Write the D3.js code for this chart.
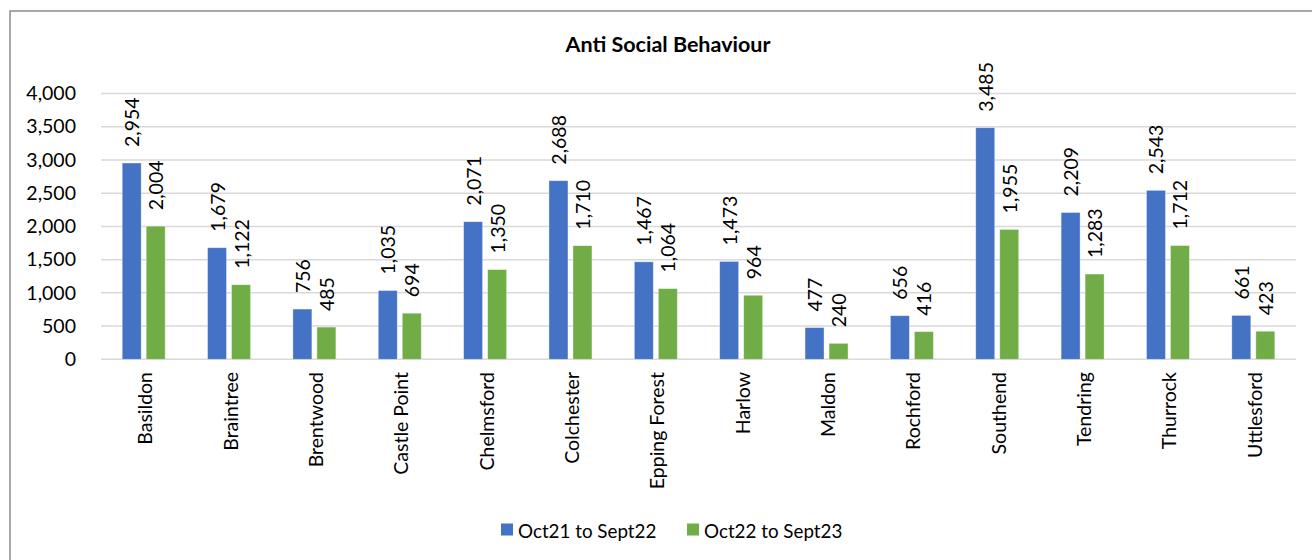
<!DOCTYPE html>
<html><head><meta charset="utf-8">
<script src="https://cdn.jsdelivr.net/npm/d3@7"></script>
<style>html,body{margin:0;padding:0;background:#fff;}svg{display:block;}</style>
</head><body>
<svg id="chart" width="1312" height="560"></svg>
<script>
const categories = ["Basildon","Braintree","Brentwood","Castle Point","Chelmsford","Colchester","Epping Forest","Harlow","Maldon","Rochford","Southend","Tendring","Thurrock","Uttlesford"];
const seriesNames = ["Oct21 to Sept22","Oct22 to Sept23"];
const oct21 = [2954,1679,756,1035,2071,2688,1467,1473,477,656,3485,2209,2543,661];
const oct22 = [2004,1122,485,694,1350,1710,1064,964,240,416,1955,1283,1712,423];
const yTicks = [0,500,1000,1500,2000,2500,3000,3500,4000];
const colors = ["#4472C4","#70AD47"];
const title = "Anti Social Behaviour";

(function(){
const svg = d3.select("#chart");
const font = "Lato, 'Open Sans', sans-serif";
const fs = 19.5;

svg.append("rect").attr("x",10).attr("y",11).attr("width",1320).attr("height",600)
  .attr("fill","#fff").attr("stroke","#8c8c8c").attr("stroke-width",1.5);

const pLeft = 101, pRight = 1296, pTop = 93.5, pBottom = 359.3;
const x = d3.scaleBand().domain(categories).range([pLeft,pRight]).paddingInner(0).paddingOuter(0);
const y = d3.scaleLinear().domain([0,4000]).range([pBottom,pTop]);

svg.append("text").attr("x",668).attr("y",46).attr("text-anchor","middle").attr("dominant-baseline","middle")
  .attr("font-family",font).attr("font-weight","bold").attr("font-size",21.5).attr("fill","#000").text(title);

svg.append("g").selectAll("line").data(yTicks).join("line")
  .attr("x1",pLeft).attr("x2",pRight).attr("y1",d=>y(d)).attr("y2",d=>y(d))
  .attr("stroke","#d9d9d9").attr("stroke-width",1.5);

const yAxis = d3.axisLeft(y).tickValues(yTicks).tickFormat(d3.format(",")).tickSize(0).tickPadding(0);
const ya = svg.append("g").attr("transform",`translate(76,0)`).call(yAxis);
ya.select(".domain").remove();
ya.selectAll("text").attr("font-family",font).attr("font-size",fs).attr("fill","#000");

const series = [oct21, oct22];
const barW = 19, gap = 5;
const fmt = d3.format(",");
series.forEach((vals, si) => {
  const g = svg.append("g");
  const off = si === 0 ? -gap/2 - barW : gap/2;
  g.selectAll("rect").data(vals).join("rect")
    .attr("x",(d,i)=>x(categories[i]) + x.bandwidth()/2 + off)
    .attr("y",d=>y(d)).attr("width",barW).attr("height",d=>pBottom - y(d))
    .attr("fill",colors[si]).attr("stroke","#ffffff").attr("stroke-opacity",0.5).attr("stroke-width",0.75);
  g.selectAll("text").data(vals).join("text")
    .attr("transform",(d,i)=>`translate(${x(categories[i]) + x.bandwidth()/2 + off + barW/2},${y(d)-16}) rotate(-90)`)
    .attr("text-anchor","start").attr("dominant-baseline","central")
    .attr("font-family",font).attr("font-size",fs).attr("fill","#000")
    .text(d=>fmt(d));
});

svg.append("g").selectAll("text").data(categories).join("text")
  .attr("transform",d=>`translate(${x(d)+x.bandwidth()/2+1},372) rotate(-90)`)
  .attr("text-anchor","end").attr("dominant-baseline","central")
  .attr("font-family",font).attr("font-size",fs).attr("fill","#000").text(d=>d);

const legX = [501, 687];
seriesNames.forEach((n,i)=>{
  svg.append("rect").attr("x",legX[i]).attr("y",523.5).attr("width",12).attr("height",12).attr("fill",colors[i]);
  svg.append("text").attr("x",legX[i]+17).attr("y",530).attr("dominant-baseline","central")
    .attr("font-family",font).attr("font-size",18.8).attr("fill","#000").text(n);
});
})();
</script>
</body></html>
